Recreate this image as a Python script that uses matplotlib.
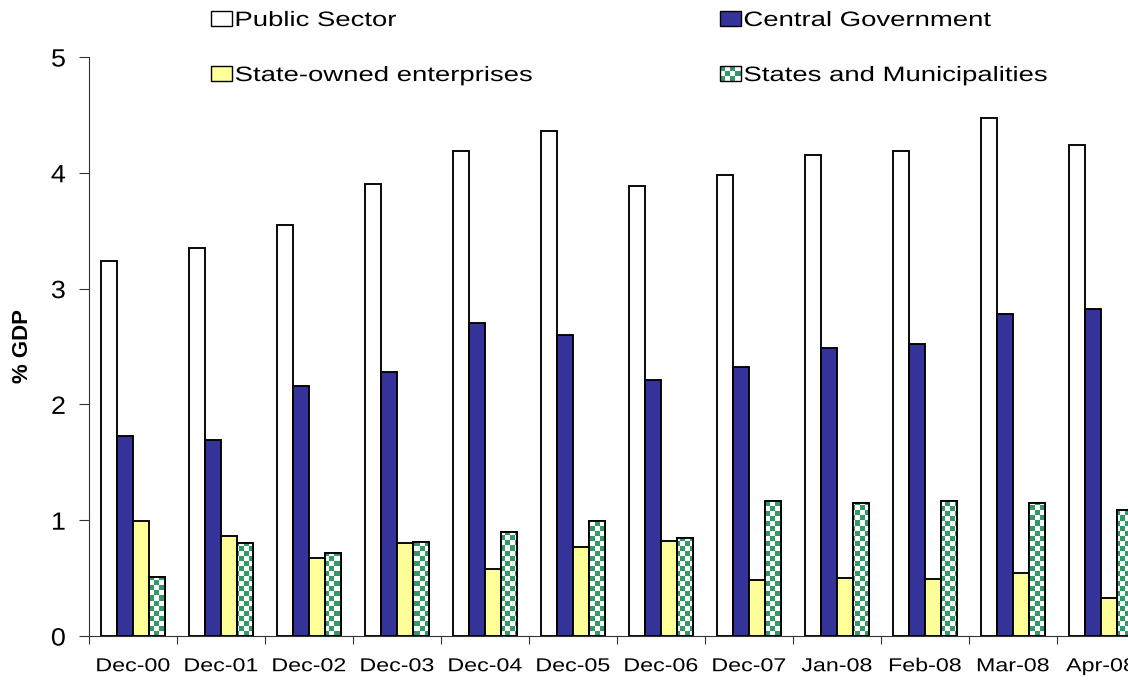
import numpy as np
import matplotlib
matplotlib.use("Agg")
import matplotlib.pyplot as plt
from matplotlib.patches import Rectangle
from matplotlib.legend_handler import HandlerBase
from matplotlib.ticker import FixedLocator
from matplotlib.colors import ListedColormap
from matplotlib.patheffects import AbstractPathEffect
from matplotlib.transforms import Affine2D

plt.rcParams['font.family'] = ['Liberation Sans', 'DejaVu Sans']

categories = ["Dec-00", "Dec-01", "Dec-02", "Dec-03", "Dec-04", "Dec-05",
              "Dec-06", "Dec-07", "Jan-08", "Feb-08", "Mar-08", "Apr-08"]
public_sector = [3.24, 3.35, 3.55, 3.90, 4.19, 4.36, 3.89, 3.98, 4.15, 4.19, 4.47, 4.24]
central_government = [1.73, 1.69, 2.16, 2.28, 2.70, 2.60, 2.21, 2.32, 2.49, 2.52, 2.78, 2.82]
state_owned = [0.99, 0.86, 0.67, 0.80, 0.58, 0.77, 0.82, 0.48, 0.50, 0.49, 0.54, 0.33]
states_municipalities = [0.51, 0.80, 0.72, 0.81, 0.90, 0.99, 0.85, 1.17, 1.15, 1.17, 1.15, 1.09]

series_labels = ["Public Sector", "Central Government",
                 "State-owned enterprises", "States and Municipalities"]

BLUE = "#333399"
YELLOW = "#FFFF99"
GREEN = "#339966"


class HStretch(AbstractPathEffect):
    """Draw text glyphs widened horizontally (a wide-set sans look)."""

    def __init__(self, sx, anchor="center"):
        super().__init__()
        self.sx = sx
        self.anchor = anchor

    def draw_path(self, renderer, gc, tpath, affine, rgbFace=None):
        ext = tpath.get_extents()
        cx = (ext.x0 + ext.x1) / 2 if self.anchor == "center" else ext.x0
        t = Affine2D().translate(-cx, 0).scale(self.sx, 1).translate(cx, 0) + affine
        renderer.draw_path(gc, tpath, t, rgbFace)


W, H = 1128, 680
fig = plt.figure(figsize=(W / 100, H / 100), dpi=100)
ax_left, ax_bottom, ax_w, ax_h = 89, 44, 1056, 579
ax = fig.add_axes([ax_left / W, ax_bottom / H, ax_w / W, ax_h / H])

x = np.arange(len(categories))
bw = 0.18
lw = 1.35

ax.bar(x - 1.5 * bw, public_sector, bw, color="white", edgecolor="black", linewidth=lw, zorder=3)
ax.bar(x - 0.5 * bw, central_government, bw, color=BLUE, edgecolor="black", linewidth=lw, zorder=3)
ax.bar(x + 0.5 * bw, state_owned, bw, color=YELLOW, edgecolor="black", linewidth=lw, zorder=3)
checker_bars = ax.bar(x + 1.5 * bw, states_municipalities, bw, facecolor="white",
                      edgecolor="black", linewidth=lw, zorder=2)
ax.bar(x + 1.5 * bw, states_municipalities, bw, facecolor="none",
       edgecolor="black", linewidth=lw, zorder=4)

xlim = (-0.5, len(categories) - 0.5)
ylim = (0, 5)

# checkerboard texture for the states & municipalities bars
cell = 5.0
ncols = int(round(ax_w / cell))
nrows = int(round(ax_h / cell))
yy, xx = np.mgrid[0:nrows, 0:ncols]
checker = ((xx + yy) % 2).astype(float)
cmap = ListedColormap(["white", GREEN])
for b in checker_bars:
    im = ax.imshow(checker, cmap=cmap, extent=(xlim[0], xlim[1], ylim[0], ylim[1]),
                   origin="lower", interpolation="nearest", aspect="auto", zorder=2.5)
    im.set_clip_path(b)

ax.set_xlim(*xlim)
ax.set_ylim(*ylim)
ax.set_aspect("auto")

ax.spines["top"].set_visible(False)
ax.spines["right"].set_visible(False)
for s in ("left", "bottom"):
    ax.spines[s].set_linewidth(0.8)
    ax.spines[s].set_color("#333333")

ax.set_yticks([0, 1, 2, 3, 4, 5])
ax.tick_params(axis="y", direction="out", length=7, width=0.8, pad=10, labelsize=18, color="#333333")
ax.set_xticks(x)
ax.set_xticklabels(categories)
ax.xaxis.set_minor_locator(FixedLocator(np.arange(-0.5, len(categories), 1.0)))
ax.tick_params(axis="x", which="major", length=0, pad=16, labelsize=13.5)
ax.tick_params(axis="x", which="minor", direction="out", length=6, width=0.8, color="#333333")

for lab in ax.get_yticklabels():
    lab.set_path_effects([HStretch(1.08)])
for lab in ax.get_xticklabels():
    lab.set_path_effects([HStretch(1.24)])

fig.text(22 / W, 1 - 346 / H, "% GDP", rotation=90, fontsize=16, fontweight="bold",
         ha="center", va="center")


class CheckerHandler(HandlerBase):
    def create_artists(self, legend, orig_handle, xdescent, ydescent, width, height, fontsize, trans):
        artists = [Rectangle((-xdescent, -ydescent), width, height, facecolor="white",
                             edgecolor="none", transform=trans)]
        nx, ny = 4, 3
        cw, ch = width / nx, height / ny
        for i in range(nx):
            for j in range(ny):
                if (i + j) % 2 == 0:
                    artists.append(Rectangle((-xdescent + i * cw, -ydescent + j * ch), cw, ch,
                                             facecolor=GREEN, edgecolor="none", transform=trans))
        artists.append(Rectangle((-xdescent, -ydescent), width, height, facecolor="none",
                                 edgecolor="black", linewidth=1.0, transform=trans))
        return artists


h_public = Rectangle((0, 0), 1, 1, facecolor="white", edgecolor="black", linewidth=1.0)
h_central = Rectangle((0, 0), 1, 1, facecolor=BLUE, edgecolor="black", linewidth=1.0)
h_soe = Rectangle((0, 0), 1, 1, facecolor=YELLOW, edgecolor="black", linewidth=1.0)
h_states = Rectangle((0, 0), 1, 1)

leg = fig.legend([h_public, h_soe, h_central, h_states],
                 [series_labels[0], series_labels[2], series_labels[1], series_labels[3]],
                 handler_map={h_states: CheckerHandler()},
                 ncol=2, loc="upper left", bbox_to_anchor=(211 / W, 1 - 11 / H),
                 borderaxespad=0, borderpad=0,
                 frameon=False, fontsize=15, handlelength=1.0, handleheight=0.72,
                 handletextpad=0.15, columnspacing=12.4, labelspacing=1.73)
for t in leg.get_texts():
    t.set_path_effects([HStretch(1.32, anchor="left")])

fig.savefig("out.png", dpi=100)
